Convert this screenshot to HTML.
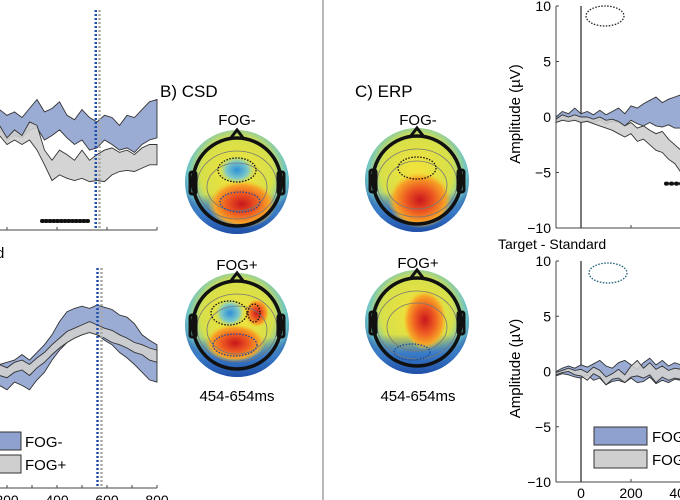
<!DOCTYPE html>
<html><head><meta charset="utf-8">
<style>
html,body{margin:0;padding:0;background:#fff;}
svg{display:block;font-family:"Liberation Sans",sans-serif;}
</style></head>
<body>
<svg id="fig" width="680" height="500" viewBox="0 0 680 500">
<defs>
  <clipPath id="cLT"><rect x="0" y="0" width="158" height="231"/></clipPath>
  <clipPath id="cRT"><rect x="556" y="0" width="124" height="500"/></clipPath>
  <radialGradient id="bgA" cx="50%" cy="42%" r="58%">
    <stop offset="0" stop-color="#f4e23a"/><stop offset="0.6" stop-color="#d6e04a"/><stop offset="0.82" stop-color="#6cc4c8"/><stop offset="1" stop-color="#2a5db0"/>
  </radialGradient>
  <radialGradient id="hotA" cx="50%" cy="50%" r="50%">
    <stop offset="0" stop-color="#c8161c"/><stop offset="0.45" stop-color="#ee5a22"/><stop offset="0.8" stop-color="#f6a427"/><stop offset="1" stop-color="#f6d030" stop-opacity="0"/>
  </radialGradient>
  <radialGradient id="coldA" cx="50%" cy="50%" r="50%">
    <stop offset="0" stop-color="#2f8fd8"/><stop offset="0.6" stop-color="#7cc8c8"/><stop offset="1" stop-color="#a8d890" stop-opacity="0"/>
  </radialGradient>
  <linearGradient id="bottomBlue" x1="0" y1="0" x2="0" y2="1">
    <stop offset="0.62" stop-color="#2a5db0" stop-opacity="0"/><stop offset="0.8" stop-color="#3a7cc8"/><stop offset="1" stop-color="#1f4fa8"/>
  </linearGradient>
</defs>
<line x1="323" y1="0" x2="323" y2="500" stroke="#888" stroke-width="1.2"/>
<g id="lt"></g>
<g id="lb"></g>
<g id="rt"></g>
<g id="rb"></g>
<g id="topos"></g>
<text x="160" y="97" font-size="17">B) CSD</text>
<text x="355" y="97" font-size="17">C) ERP</text>
<text x="237" y="125" font-size="15" text-anchor="middle">FOG-</text>
<text x="237" y="270" font-size="15" text-anchor="middle">FOG+</text>
<text x="237" y="401" font-size="15" text-anchor="middle">454-654ms</text>
<text x="418" y="125" font-size="15" text-anchor="middle">FOG-</text>
<text x="418" y="268" font-size="15" text-anchor="middle">FOG+</text>
<text x="418" y="401" font-size="15" text-anchor="middle">454-654ms</text>
<text x="-4" y="258" font-size="15">d</text>
<text x="498" y="249" font-size="14">Target - Standard</text>
</svg>
<script>
// ---- data ----
const leftTimes = [170,200,230,260,290,320,350,380,410,440,470,500,530,560,590,620,650,680,710,740,770,800];
const ltFogMinusUpper = [0.7,0.2,0.5,0,0.8,1.6,0.5,0.8,1.4,0.2,-0.2,0.7,0,-0.4,0.2,0,-0.7,0.2,0,0.7,1.4,1.6];
const ltFogMinusLower = [-1.1,-2,-1.6,-1.8,-1.1,-0.9,-2,-1.6,-1.1,-1.8,-2.4,-2,-2.9,-2.7,-2,-2.4,-2.9,-2.7,-3.1,-2.4,-2,-1.8];
const ltFogPlusUpper = [-0.7,-1.8,-1.1,-1.6,-0.4,-0.7,-2.9,-3.8,-2.9,-3.3,-3.8,-2.9,-3.8,-3.3,-2.9,-2.7,-3.1,-2.9,-3.3,-2.7,-2.4,-2.4];
const ltFogPlusLower = [-1.6,-2.4,-2,-2.4,-2,-2.9,-4.2,-5.6,-5.1,-5.4,-5.6,-5.4,-5.7,-5.6,-5.7,-5.1,-4.8,-4.7,-4.8,-4.5,-4.2,-4.2];
const lbFogMinusUpper = [0.5,0.7,0.9,1.4,0.9,1.6,2.3,3.2,4.4,5.3,5.6,5.8,5.6,5.9,5.7,5.5,5,4.8,4.2,3.2,2.7,2.3];
const lbFogMinusLower = [-1.4,-1.8,-1.1,-1.4,-1.8,-0.9,-0.2,0.9,1.8,2.5,2.9,3.2,3.5,3.2,2.7,2.3,1.6,1.1,0.5,-0.2,-0.9,-1.1];
const lbFogPlusUpper = [0.5,0.2,0.7,0.9,0.5,1.1,1.6,2.3,2.9,3.5,3.8,4.1,4.4,4.1,3.8,3.6,3.2,2.9,2.5,2.3,2,1.8];
const lbFogPlusLower = [-0.5,-0.7,-0.2,0,-0.5,0.2,0.7,1.4,2,2.5,2.9,3.2,3.4,3.2,2.9,2.5,2.3,2,1.6,1.4,0.9,0.7];
const rightTimes = [-100,-75,-50,-25,0,25,50,75,100,125,150,175,200,225,250,275,300,325,350,375,400];
const rtFogMinusUpper = [0,0.5,0.3,0.8,0.3,0.5,0.2,0.6,0.2,0.5,0.8,0.3,1,0.8,1.2,1.5,1.8,1.3,1.6,1.8,2];
const rtFogMinusLower = [-0.5,-0.2,-0.3,-0.2,-0.4,-0.3,-0.5,-0.3,-0.6,-0.4,-0.5,-0.8,-0.3,-0.6,-0.8,-0.5,-0.8,-0.9,-0.7,-1,-1];
const rtFogPlusUpper = [-0.2,0.2,0,0.2,0,0,-0.2,0,-0.3,-0.2,-0.4,-0.8,-0.5,-1,-0.8,-1.2,-1.5,-1.3,-2,-2.5,-3];
const rtFogPlusLower = [-0.5,-0.3,-0.4,-0.3,-0.5,-0.4,-0.6,-0.8,-1,-1.2,-1.5,-1.8,-1.5,-2.2,-2,-2.5,-3,-3.2,-3.8,-4.2,-5];
const rbFogMinusUpper = [0,0.3,0.5,0.3,0.6,0.4,0.7,1,0.5,0.3,0.8,1,0.6,0.2,0.8,1.2,0.6,1,0.5,0.8,0.6];
const rbFogMinusLower = [-0.4,-0.2,-0.3,-0.5,-0.6,-0.3,-0.8,-0.6,-1.2,-0.9,-0.8,-1,-0.6,-1,-0.9,-0.5,-1.1,-0.8,-1,-0.7,-0.8];
const rbFogPlusUpper = [-0.1,0.1,0.3,0.1,0.2,-0.1,0.4,0.1,-0.5,-0.2,0.2,-0.3,0.5,1,0.3,0.8,0.2,0.5,0.1,0.3,0.2];
const rbFogPlusLower = [-0.3,-0.1,0,-0.3,-0.4,-0.8,-0.2,-0.5,-1.2,-0.7,-0.6,-1,-0.5,-0.4,-0.6,-0.3,-1,-0.5,-0.8,-0.6,-0.7];
const yTicks = [10,5,0,-5,-10];
const yTickLabels = ["10","5","0","\u22125","\u221210"];
const rightXTicks = [0,200,400];
const leftXTicks = [200,400,600,800];
const leftXLabels = ["200","400","600","800"];
const ltSigTimes = [340,355,370,385,400,415,430,445,460,475,490,505,520];
const rtSigTimes = [340,360,380,400];
const legendNames = ["FOG-","FOG+"];

const NS = "http://www.w3.org/2000/svg";
function mk(parent, tag, attrs){ const e=document.createElementNS(NS,tag); for(const k in attrs) e.setAttribute(k,attrs[k]); parent.appendChild(e); return e; }
const BLUE="#8fa2cf", GRAY="#cfcfcf", EDGE="#333";

const lx = t => 157 - (800 - t) * 0.25;
const lty = v => 117.5 - v * 11.25;
const lby = v => 370 - v * 11;
const rx = t => 581 + t * 0.25;
const rty = v => 117 - v * 11.1;
const rby = v => 371.5 - v * 11.05;

function band(g, times, up, lo, xs, ys, fill, name){
  let d = "M" + times.map((t,i)=>xs(t).toFixed(1)+","+ys(up[i]).toFixed(1)).join("L");
  for(let i=times.length-1;i>=0;i--) d += "L"+xs(times[i]).toFixed(1)+","+ys(lo[i]).toFixed(1);
  d += "Z";
  const p = mk(g,"path",{d:d, fill:fill, "fill-opacity":"0.9", stroke:EDGE, "stroke-width":"0.9"});
  
  
}

const lt = document.getElementById("lt");
const ltc = mk(lt,"g",{"clip-path":"url(#cLT)"});
band(ltc,leftTimes,ltFogMinusUpper,ltFogMinusLower,lx,lty,BLUE,"fogminus-band");
band(ltc,leftTimes,ltFogPlusUpper,ltFogPlusLower,lx,lty,GRAY,"fogplus-band");
mk(lt,"line",{x1:0,y1:230,x2:157,y2:230,stroke:"#444","stroke-width":1});
[200,400,600,800].forEach(t=>mk(lt,"line",{x1:lx(t),y1:230,x2:lx(t),y2:227,stroke:"#444"}));
ltSigTimes.forEach(t=>{ const c=mk(lt,"rect",{x:lx(t)-2,y:219,width:5,height:4,rx:2,fill:"#111"});
    });
mk(lt,"line",{x1:lx(555),y1:10,x2:lx(555),y2:230,stroke:"#1f4fa8","stroke-width":2.5,"stroke-dasharray":"2,2"});
mk(lt,"line",{x1:lx(570),y1:10,x2:lx(570),y2:230,stroke:"#aaa","stroke-width":2.5,"stroke-dasharray":"2,2"});

const lb = document.getElementById("lb");
band(lb,leftTimes,lbFogMinusUpper,lbFogMinusLower,lx,lby,BLUE,"fogminus-band");
band(lb,leftTimes,lbFogPlusUpper,lbFogPlusLower,lx,lby,GRAY,"fogplus-band");
mk(lb,"line",{x1:0,y1:488,x2:157,y2:488,stroke:"#444","stroke-width":1});
[200,300,400,500,600,700,800].forEach(t=>mk(lb,"line",{x1:lx(t),y1:488,x2:lx(t),y2:485,stroke:"#444"}));
leftXTicks.forEach((t,i)=>{ const tx=mk(lb,"text",{x:lx(t),y:505,"font-size":14,"text-anchor":"middle"}); tx.textContent=leftXLabels[i];
    });
mk(lb,"line",{x1:lx(562),y1:268,x2:lx(562),y2:488,stroke:"#1f4fa8","stroke-width":2.5,"stroke-dasharray":"2,2"});
mk(lb,"line",{x1:lx(578),y1:268,x2:lx(578),y2:488,stroke:"#aaa","stroke-width":2.5,"stroke-dasharray":"2,2"});
[[432,BLUE],[455,GRAY]].forEach((r,i)=>{
  const lg=mk(lb,"g",{});
   
  mk(lg,"rect",{x:-10,y:r[0],width:31,height:18,fill:r[1],stroke:EDGE,"stroke-width":1});
  const tx=mk(lg,"text",{x:25,y:r[0]+15,"font-size":15}); tx.textContent=legendNames[i];
});

function rightAxes(g, ys){
  mk(g,"line",{x1:556,y1:ys(10),x2:556,y2:ys(-10),stroke:"#444"});
  mk(g,"line",{x1:556,y1:ys(-10),x2:680,y2:ys(-10),stroke:"#444"});
  mk(g,"line",{x1:rx(0),y1:ys(10),x2:rx(0),y2:ys(-10),stroke:"#222","stroke-width":1.2});
  yTicks.forEach((v,i)=>{ const tx=mk(g,"text",{x:551,y:ys(v)+5,"font-size":14,"text-anchor":"end"}); tx.textContent=yTickLabels[i];
     
    mk(g,"line",{x1:556,y1:ys(v),x2:559,y2:ys(v),stroke:"#444"}); });
  [200,400].forEach(t=>mk(g,"line",{x1:rx(t),y1:ys(-10),x2:rx(t),y2:ys(-10)-3,stroke:"#444"}));
  const yl=mk(g,"text",{x:0,y:0,"font-size":15,"text-anchor":"middle",transform:`translate(520,${ys(0)-3}) rotate(-90)`});
  yl.textContent="Amplitude (\u00b5V)";
   
}
const rt=document.getElementById("rt");
rightAxes(rt,rty);
const rtc=mk(rt,"g",{"clip-path":"url(#cRT)"});
band(rtc,rightTimes,rtFogMinusUpper,rtFogMinusLower,rx,rty,BLUE,"fogminus-band");
band(rtc,rightTimes,rtFogPlusUpper,rtFogPlusLower,rx,rty,GRAY,"fogplus-band");
rtSigTimes.forEach(t=>{ const c=mk(rtc,"rect",{x:rx(t)-2,y:rty(-6)-2,width:5,height:4,rx:2,fill:"#111"});
    });
mk(rt,"ellipse",{cx:605,cy:16,rx:19,ry:10,fill:"none",stroke:"#222","stroke-width":1.3,"stroke-dasharray":"1.5,1.5"});

const rb=document.getElementById("rb");
rightAxes(rb,rby);
const rbc=mk(rb,"g",{"clip-path":"url(#cRT)"});
band(rbc,rightTimes,rbFogMinusUpper,rbFogMinusLower,rx,rby,BLUE,"fogminus-band");
band(rbc,rightTimes,rbFogPlusUpper,rbFogPlusLower,rx,rby,GRAY,"fogplus-band");
mk(rb,"ellipse",{cx:608,cy:273,rx:19,ry:10,fill:"none",stroke:"#1a5a7a","stroke-width":1.3,"stroke-dasharray":"1.5,1.5"});
rightXTicks.forEach(t=>{ const tx=mk(rb,"text",{x:rx(t),y:498,"font-size":14,"text-anchor":"middle"}); tx.textContent=String(t);
    });
[[427,BLUE],[450,GRAY]].forEach((r,i)=>{
  const lg=mk(rb,"g",{});
   
  mk(lg,"rect",{x:594,y:r[0],width:53,height:18,fill:r[1],stroke:EDGE,"stroke-width":1});
  const tx=mk(lg,"text",{x:652,y:r[0]+15,"font-size":15}); tx.textContent=legendNames[i];
});

const topos=document.getElementById("topos");
let cid=0;
function topo(cx,cy,hot,cold,dots){
  const g=mk(topos,"g",{});
   
  const id="tc"+(cid++);
  const cp=mk(g,"clipPath",{id:id}); mk(cp,"circle",{cx:cx,cy:cy,r:52});
  const inner=mk(g,"g",{"clip-path":`url(#${id})`});
  mk(inner,"rect",{x:cx-52,y:cy-52,width:104,height:104,fill:"url(#bgA)"});
  mk(inner,"rect",{x:cx-52,y:cy-52,width:104,height:104,fill:"url(#bottomBlue)"});
  hot.forEach(h=>mk(inner,"ellipse",{cx:cx+h[0],cy:cy+h[1],rx:h[2],ry:h[3],fill:"url(#hotA)"}));
  cold.forEach(h=>mk(inner,"ellipse",{cx:cx+h[0],cy:cy+h[1],rx:h[2],ry:h[3],fill:"url(#coldA)"}));
  mk(inner,"ellipse",{cx:cx,cy:cy+5,rx:30,ry:24,fill:"none",stroke:"#777","stroke-width":0.8});
  mk(inner,"ellipse",{cx:cx,cy:cy+3,rx:40,ry:34,fill:"none",stroke:"#777","stroke-width":0.8});
  mk(g,"path",{d:`M${cx-7},${cy-43} L${cx},${cy-52} L${cx+7},${cy-43}`,fill:"none",stroke:"#111","stroke-width":3});
  mk(g,"rect",{x:cx-47,y:cy-10,width:6,height:22,rx:2,fill:"none",stroke:"#111","stroke-width":3});
  mk(g,"rect",{x:cx+41,y:cy-10,width:6,height:22,rx:2,fill:"none",stroke:"#111","stroke-width":3});
  mk(g,"circle",{cx:cx,cy:cy,r:44,fill:"none",stroke:"#111","stroke-width":3.5});
  dots.forEach(d=>mk(g,"ellipse",{cx:cx+d[0],cy:cy+d[1],rx:d[2],ry:d[3],fill:"none",stroke:d[4],"stroke-width":1.3,"stroke-dasharray":"1.5,1.5"}));
}
topo(237,182,[[5,22,34,24]],[[0,-12,18,14]],[[0,-12,19,12,"#111"],[3,20,20,10,"#1a4a9a"]]);
topo(237,325,[[-2,18,30,19],[20,-12,12,14]],[[-7,-12,15,14]],[[-8,-12,18,12,"#111"],[-2,20,22,11,"#1a4a9a"],[17,-12,6,9,"#111"]]);
topo(417,180,[[3,20,32,28]],[],[[0,-12,19,11,"#111"]]);
topo(417,322,[[8,-2,22,30]],[],[[-5,30,18,8,"#1a4a9a"]]);
</script>
</body></html>
